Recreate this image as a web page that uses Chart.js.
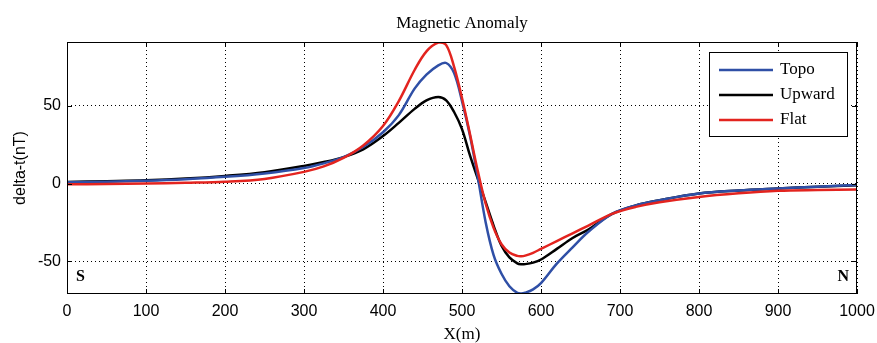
<!DOCTYPE html>
<html>
<head>
<meta charset="utf-8">
<script src="https://cdn.jsdelivr.net/npm/chart.js@4/dist/chart.umd.min.js"></script>
<style>
  html, body { margin: 0; padding: 0; background: #fff; }
  #wrap { width: 877px; height: 343px; }
</style>
</head>
<body>
<div id="wrap"><canvas id="chart"></canvas></div>
<script>
// profile positions (m)
const xPos = [0, 50, 100, 150, 200, 250, 300, 325, 350, 375, 400, 420, 440, 455, 470, 480, 490, 500, 510, 520,
  530, 540, 550, 560, 570, 575, 580, 590, 600, 620, 640, 660, 690, 720, 750, 800, 850, 900, 950, 1000];

// delta-t (nT)
const topo = [0.8, 1.2, 1.8, 2.8, 4.3, 6.5, 10, 13, 17, 23.5, 33, 44, 61, 70, 76, 77.5, 71, 53, 31, 4,
  -25, -46, -58, -66, -70.3, -70.7, -70.2, -68, -64, -51.5, -41, -31, -19.5, -14, -10.7, -6.4, -4.5, -3.2, -2, -1];
const upward = [1, 1.5, 2.1, 3.2, 4.9, 7.3, 11.3, 13.8, 17, 22, 30.5, 39, 48, 53.5, 55.7, 53.5, 46, 35, 18.2, 3,
  -12, -27, -40, -47.5, -51.3, -51.9, -51.8, -50.8, -48.8, -42, -35, -29.5, -19.5, -14, -10.7, -6.4, -4.5, -3.2, -2, -1.1];
const flat = [-0.5, -0.3, 0, 0.5, 1.2, 3, 7.5, 11, 16.5, 24.5, 37, 53, 73, 85, 90.6, 89, 75, 55, 32, 8,
  -13, -28.5, -39, -44.3, -46.5, -46.7, -46.3, -44.5, -42, -37, -32, -27, -19.5, -15, -12, -8.6, -6.3, -4.7, -4.2, -3.9];

const xTicks = [0, 100, 200, 300, 400, 500, 600, 700, 800, 900, 1000];
const yTicks = [-50, 0, 50];

const toPts = ys => ys.map((y, i) => ({ x: xPos[i], y }));

// frame, inward ticks, S/N marks and the boxed legend
const matlabBox = {
  id: 'matlabBox',
  afterDatasetsDraw(chart) {
    const { ctx, chartArea: a, scales } = chart;
    ctx.save();
    ctx.strokeStyle = '#000';
    ctx.lineWidth = 1;
    ctx.strokeRect(a.left + 0.5, a.top + 0.5, a.right - a.left - 1, a.bottom - a.top - 1);

    const tl = 5;
    ctx.beginPath();
    xTicks.forEach(v => {
      const px = Math.round(scales.x.getPixelForValue(v)) + 0.5;
      ctx.moveTo(px, a.bottom); ctx.lineTo(px, a.bottom - tl);
      ctx.moveTo(px, a.top); ctx.lineTo(px, a.top + tl);
    });
    yTicks.forEach(v => {
      const py = Math.round(scales.y.getPixelForValue(v)) + 0.5;
      ctx.moveTo(a.left, py); ctx.lineTo(a.left + tl, py);
      ctx.moveTo(a.right, py); ctx.lineTo(a.right - tl, py);
    });
    ctx.stroke();

    ctx.fillStyle = '#000';
    ctx.font = 'bold 16px "Liberation Serif"';
    ctx.textBaseline = 'middle';
    ctx.textAlign = 'left';
    ctx.fillText('S', a.left + 9, a.bottom - 17);
    ctx.textAlign = 'right';
    ctx.fillText('N', a.right - 8, a.bottom - 17);

    // legend
    const bx = a.right - 148, by = a.top + 10, bw = 138, bh = 84;
    ctx.fillStyle = '#fff';
    ctx.fillRect(bx, by, bw, bh);
    ctx.strokeRect(bx + 0.5, by + 0.5, bw, bh);
    ctx.font = '17px "Liberation Serif"';
    ctx.textAlign = 'left';
    chart.data.datasets.forEach((ds, i) => {
      const y = by + 18 + i * 25;
      ctx.strokeStyle = ds.borderColor;
      ctx.lineWidth = 2.5;
      ctx.beginPath();
      ctx.moveTo(bx + 10, y); ctx.lineTo(bx + 64, y);
      ctx.stroke();
      ctx.fillStyle = '#000';
      ctx.fillText(ds.label, bx + 71, y);
    });
    ctx.restore();
  }
};

const ctx = document.getElementById('chart').getContext('2d');
new Chart(ctx, {
  type: 'line',
  data: {
    datasets: [
      { label: 'Topo', data: toPts(topo), borderColor: '#2f4fa6', order: 2 },
      { label: 'Upward', data: toPts(upward), borderColor: '#000000', order: 3 },
      { label: 'Flat', data: toPts(flat), borderColor: '#e3241f', order: 1 },
    ].map(d => ({ ...d, borderWidth: 2.5, pointRadius: 0, fill: false, tension: 0.35 })),
  },
  options: {
    responsive: true, maintainAspectRatio: false, animation: false,
    layout: { padding: { left: 0, right: 20, top: 0, bottom: 0 } },
    plugins: {
      legend: { display: false },
      tooltip: { enabled: false },
      title: {
        display: true, text: 'Magnetic Anomaly', color: '#000', fullSize: false,
        font: { family: '"Liberation Serif"', size: 17, weight: 'normal', lineHeight: 1 },
        padding: { top: 15, bottom: 10 },
      },
    },
    scales: {
      x: {
        type: 'linear', min: 0, max: 1000,
        afterBuildTicks: s => { s.ticks = xTicks.map(v => ({ value: v })); },
        afterFit: s => { s.height = 49; s.paddingLeft = 0; s.paddingRight = 0; },
        ticks: {
          color: '#000', font: { family: '"Liberation Sans"', size: 16 }, padding: 8, maxRotation: 0,
          callback: v => String(v),
        },
        grid: { color: '#000', lineWidth: 1, drawTicks: false },
        border: { display: false, dash: [1, 3] },
        title: {
          display: true, text: 'X(m)', color: '#000',
          font: { family: '"Liberation Serif"', size: 17, lineHeight: 1 },
          padding: { top: 0, bottom: 0 },
        },
      },
      y: {
        type: 'linear', min: -71, max: 91,
        afterBuildTicks: s => { s.ticks = yTicks.map(v => ({ value: v })); },
        afterFit: s => { s.width = 67; s.paddingTop = 0; s.paddingBottom = 0; },
        ticks: {
          color: '#000', font: { family: '"Liberation Sans"', size: 16 }, padding: 6,
          callback: v => String(v),
        },
        grid: { color: '#000', lineWidth: 1, drawTicks: false },
        border: { display: false, dash: [1, 3] },
        title: {
          display: true, text: 'delta-t(nT)', color: '#000',
          font: { family: '"Liberation Sans"', size: 16, lineHeight: 1 },
          padding: { top: 13, bottom: 0 },
        },
      },
    },
  },
  plugins: [matlabBox],
});
</script>
</body>
</html>
